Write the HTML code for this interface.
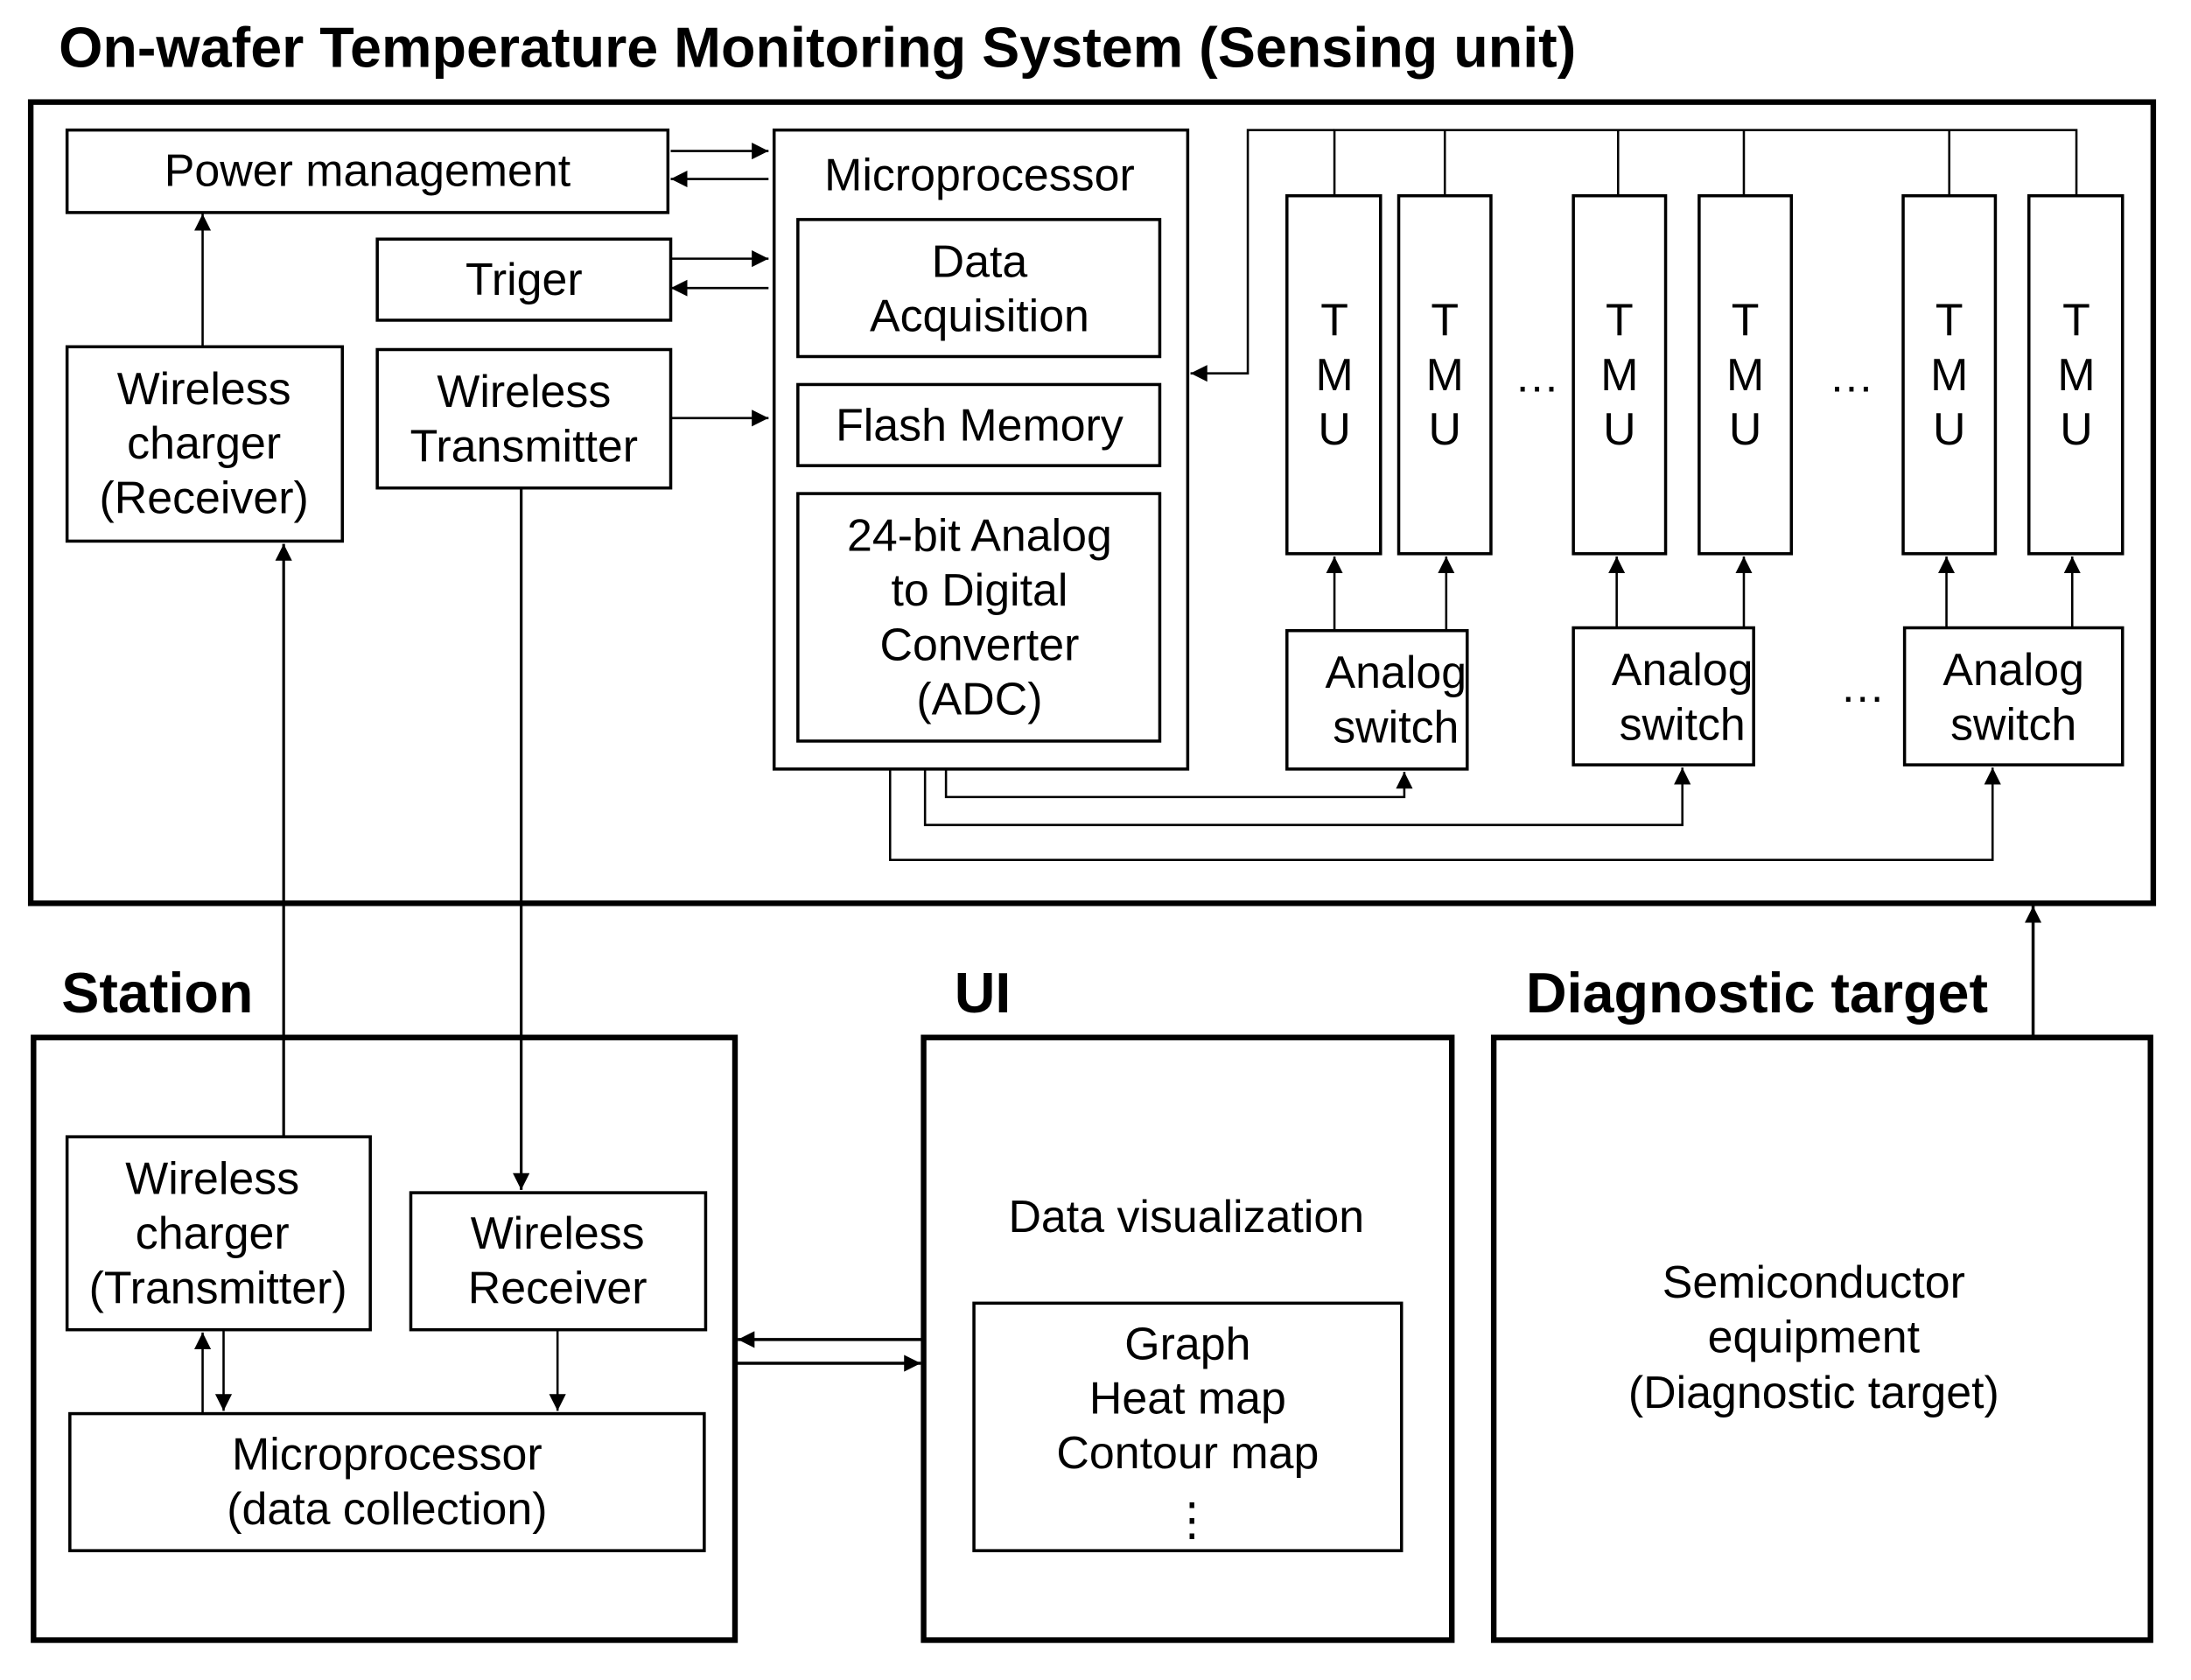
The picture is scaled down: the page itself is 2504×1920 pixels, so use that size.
<!DOCTYPE html>
<html><head><meta charset="utf-8"><style>
html,body{margin:0;padding:0;background:#fff;}
svg{display:block;}
text{font-family:"Liberation Sans",Arial,sans-serif;fill:#000;}
.l{font-size:32.5px;text-anchor:middle;}
.h{font-size:40.5px;font-weight:bold;}
</style></head><body>
<svg width="2504" height="1920" viewBox="0 0 1568 1201.5" preserveAspectRatio="none" xmlns="http://www.w3.org/2000/svg">
<defs>
<marker id="a" viewBox="0 0 10 10" refX="10" refY="5" markerWidth="12" markerHeight="12" markerUnits="userSpaceOnUse" orient="auto"><path d="M0,0 L10,5 L0,10 z" fill="#000"/></marker>
</defs>
<text class="h" x="42" y="48">On-wafer Temperature Monitoring System (Sensing unit)</text>
<rect x="22" y="73" width="1519" height="573" fill="none" stroke="#000" stroke-width="4"/>
<g fill="none" stroke="#000" stroke-width="2.2">
<rect x="48" y="93" width="430" height="59"/>
<rect x="554" y="93" width="296" height="457"/>
<rect x="571" y="157" width="259" height="98"/>
<rect x="571" y="275" width="259" height="58"/>
<rect x="571" y="353" width="259" height="177"/>
<rect x="270" y="171" width="210" height="58"/>
<rect x="270" y="250" width="210" height="99"/>
<rect x="48" y="248" width="197" height="139"/>
<rect x="921" y="140" width="67" height="256"/>
<rect x="1001" y="140" width="66" height="256"/>
<rect x="1126" y="140" width="66" height="256"/>
<rect x="1216" y="140" width="66" height="256"/>
<rect x="1362" y="140" width="66" height="256"/>
<rect x="1452" y="140" width="67" height="256"/>
<rect x="921" y="451" width="129" height="99"/>
<rect x="1126" y="449" width="129" height="98"/>
<rect x="1363" y="449" width="156" height="98"/>
<rect x="48" y="813" width="217" height="138"/>
<rect x="294" y="853" width="211" height="98"/>
<rect x="50" y="1011" width="454" height="98"/>
<rect x="697" y="932" width="306" height="177"/>
</g>
<g fill="none" stroke="#000" stroke-width="4">
<rect x="24" y="742" width="502" height="431"/>
<rect x="661" y="742" width="378" height="431"/>
<rect x="1069" y="742" width="470" height="431"/>
</g>
<g fill="none" stroke="#000" stroke-width="1.6">
<line x1="480" y1="108" x2="550" y2="108" marker-end="url(#a)"/>
<line x1="550" y1="128" x2="480" y2="128" marker-end="url(#a)"/>
<line x1="480" y1="185" x2="550" y2="185" marker-end="url(#a)"/>
<line x1="550" y1="206" x2="480" y2="206" marker-end="url(#a)"/>
<line x1="480" y1="299" x2="550" y2="299" marker-end="url(#a)"/>
<line x1="145" y1="248" x2="145" y2="153" marker-end="url(#a)"/>
<polyline points="955,140 955,93 1486,93 1486,140"/>
<line x1="1034" y1="93" x2="1034" y2="140"/>
<line x1="1158" y1="93" x2="1158" y2="140"/>
<line x1="1248" y1="93" x2="1248" y2="140"/>
<line x1="1395" y1="93" x2="1395" y2="140"/>
<polyline points="955,93 893,93 893,267 852,267" marker-end="url(#a)"/>
<line x1="955" y1="451" x2="955" y2="398" marker-end="url(#a)"/>
<line x1="1035" y1="451" x2="1035" y2="398" marker-end="url(#a)"/>
<line x1="1157" y1="449" x2="1157" y2="398" marker-end="url(#a)"/>
<line x1="1248" y1="449" x2="1248" y2="398" marker-end="url(#a)"/>
<line x1="1393" y1="449" x2="1393" y2="398" marker-end="url(#a)"/>
<line x1="1483" y1="449" x2="1483" y2="398" marker-end="url(#a)"/>
<polyline points="677,550 677,570 1005,570 1005,552" marker-end="url(#a)"/>
<polyline points="662,550 662,590 1204,590 1204,549" marker-end="url(#a)"/>
<polyline points="637,550 637,615 1426,615 1426,549" marker-end="url(#a)"/>
<line x1="203" y1="813" x2="203" y2="389" stroke-width="2" marker-end="url(#a)"/>
<line x1="373" y1="349" x2="373" y2="851" stroke-width="2" marker-end="url(#a)"/>
<line x1="145" y1="1011" x2="145" y2="953" marker-end="url(#a)"/>
<line x1="160" y1="951" x2="160" y2="1009" marker-end="url(#a)"/>
<line x1="399" y1="951" x2="399" y2="1009" marker-end="url(#a)"/>
<line x1="661" y1="958" x2="528" y2="958" stroke-width="2.2" marker-end="url(#a)"/>
<line x1="526" y1="975" x2="659" y2="975" stroke-width="2.2" marker-end="url(#a)"/>
<line x1="1455" y1="742" x2="1455" y2="648" stroke-width="2.2" marker-end="url(#a)"/>
</g>
<text class="l" x="263" y="133">Power management</text>
<text class="l" x="701" y="136">Microprocessor</text>
<text class="l" x="701" y="198">Data</text>
<text class="l" x="701" y="237">Acquisition</text>
<text class="l" x="701" y="315">Flash Memory</text>
<text class="l" x="701" y="394">24-bit Analog</text>
<text class="l" x="701" y="433">to Digital</text>
<text class="l" x="701" y="472">Converter</text>
<text class="l" x="701" y="511">(ADC)</text>
<text class="l" x="375" y="211">Triger</text>
<text class="l" x="375" y="291">Wireless</text>
<text class="l" x="375" y="330">Transmitter</text>
<text class="l" x="146" y="289">Wireless</text>
<text class="l" x="146" y="328">charger</text>
<text class="l" x="146" y="367">(Receiver)</text>
<text class="l" x="955" y="240">T</text><text class="l" x="955" y="279">M</text><text class="l" x="955" y="318">U</text>
<text class="l" x="1034" y="240">T</text><text class="l" x="1034" y="279">M</text><text class="l" x="1034" y="318">U</text>
<text class="l" x="1159" y="240">T</text><text class="l" x="1159" y="279">M</text><text class="l" x="1159" y="318">U</text>
<text class="l" x="1249" y="240">T</text><text class="l" x="1249" y="279">M</text><text class="l" x="1249" y="318">U</text>
<text class="l" x="1395" y="240">T</text><text class="l" x="1395" y="279">M</text><text class="l" x="1395" y="318">U</text>
<text class="l" x="1486" y="240">T</text><text class="l" x="1486" y="279">M</text><text class="l" x="1486" y="318">U</text>
<text class="l" x="1100" y="280">…</text>
<text class="l" x="1325" y="280">…</text>
<text class="l" x="1333" y="502">…</text>
<text class="l" x="999" y="492">Analog</text>
<text class="l" x="999" y="531">switch</text>
<text class="l" x="1204" y="490">Analog</text>
<text class="l" x="1204" y="529">switch</text>
<text class="l" x="1441" y="490">Analog</text>
<text class="l" x="1441" y="529">switch</text>
<text class="h" x="44" y="724">Station</text>
<text class="h" x="683" y="724">UI</text>
<text class="h" x="1092" y="724">Diagnostic target</text>
<text class="l" x="152" y="854">Wireless</text>
<text class="l" x="152" y="893">charger</text>
<text class="l" x="156" y="932">(Transmitter)</text>
<text class="l" x="399" y="893">Wireless</text>
<text class="l" x="399" y="932">Receiver</text>
<text class="l" x="277" y="1051">Microprocessor</text>
<text class="l" x="277" y="1090">(data collection)</text>
<text class="l" x="849" y="881">Data visualization</text>
<text class="l" x="850" y="972">Graph</text>
<text class="l" x="850" y="1011">Heat map</text>
<text class="l" x="850" y="1050">Contour map</text>
<text class="l" x="853" y="1098">⋮</text>
<text class="l" x="1298" y="928">Semiconductor</text>
<text class="l" x="1298" y="967">equipment</text>
<text class="l" x="1298" y="1007">(Diagnostic target)</text>
</svg>
</body></html>
